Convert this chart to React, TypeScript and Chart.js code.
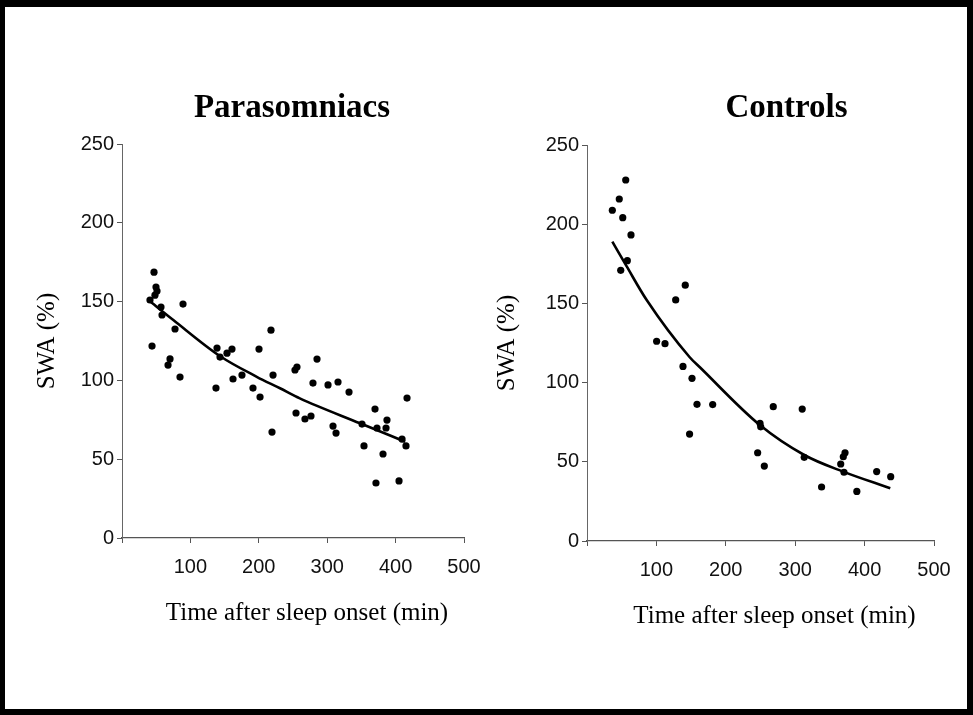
import React, { useEffect, useRef } from 'react';
import { Chart, registerables } from 'chart.js';

Chart.register(...registerables);

// ---- data ----
const xTickValues = [0, 100, 200, 300, 400, 500];
const yTickValues = [0, 50, 100, 150, 200, 250];

const paraTime = [46.8, 49.7, 51.2, 48.2, 40.9, 57.0, 58.5, 89.2, 77.5, 43.9, 70.2, 67.3, 84.8, 138.9, 137.4, 143.3, 153.5, 160.8, 162.3, 175.4, 200.3, 217.8, 220.8, 191.5, 201.8, 219.3, 252.9, 255.8, 254.4, 267.5, 276.3, 285.1, 279.2, 301.2, 315.8, 331.9, 308.5, 312.9, 350.9, 353.8, 369.9, 372.8, 387.4, 386.0, 381.6, 409.4, 415.2, 416.7, 371.3, 405.0];
const paraSWA = [168.7, 159.2, 156.7, 154.1, 151.0, 146.5, 141.5, 148.4, 132.6, 121.8, 113.6, 109.7, 102.1, 120.5, 95.1, 114.8, 117.3, 119.9, 100.9, 103.4, 119.9, 131.9, 103.4, 95.1, 89.4, 67.2, 106.6, 108.5, 79.3, 75.5, 77.4, 113.5, 98.3, 97.1, 99.0, 92.6, 71.0, 66.6, 72.3, 58.4, 81.8, 69.8, 74.8, 69.8, 53.3, 62.8, 58.4, 88.8, 34.9, 36.2];
const paraFitTime = [38.5, 75, 143, 197, 231, 260, 348, 414];
const paraFitSWA = [151, 138.3, 115.5, 102.3, 95, 88.6, 72.8, 61.1];

const ctrlTime = [36.5, 46.5, 55.8, 51.5, 63.4, 58.1, 48.6, 100.3, 112.4, 127.8, 141.6, 138.3, 151.3, 158.5, 181.1, 147.8, 249.3, 250.3, 245.9, 255.5, 268.4, 310.1, 313.0, 338.0, 371.8, 369.3, 365.6, 370.3, 417.4, 437.6, 388.8];
const ctrlSWA = [208.8, 215.9, 227.9, 204.1, 193.2, 177.0, 170.9, 126.1, 124.6, 152.2, 161.5, 110.2, 102.7, 86.3, 86.1, 67.5, 74.3, 72.1, 55.7, 47.3, 84.8, 83.3, 52.8, 34.1, 55.7, 53.2, 48.6, 43.4, 43.8, 40.6, 31.3];
const ctrlFitTime = [36.5, 57, 86, 148, 163, 249, 313, 369, 437];
const ctrlFitSWA = [189, 173.5, 152.1, 116, 109.5, 73.2, 54.3, 43.8, 33.3];

const xAxisTitle = 'Time after sleep onset (min)';
const yAxisTitle = 'SWA (%)';

const panelTextPlugin = {
  id: 'panelText',
  afterDraw(chart: any, _args: any, opts: any) {
    const { ctx, chartArea } = chart;
    const cx = (chartArea.left + chartArea.right) / 2;
    ctx.save();
    ctx.fillStyle = '#000';
    ctx.textAlign = 'center';
    // panel title
    ctx.font = 'bold 33px "Liberation Serif", "Times New Roman", serif';
    ctx.textBaseline = 'alphabetic';
    ctx.fillText(opts.title, cx + opts.titleDx, opts.titleBaseline);
    // x axis title
    ctx.font = '25px "Liberation Serif", "Times New Roman", serif';
    ctx.textBaseline = 'middle';
    ctx.fillText(opts.xTitle, cx + opts.xTitleDx, chartArea.bottom + opts.xTitleGap);
    ctx.restore();
  },
};

type PanelProps = {
  title: string;
  titleDx: number;
  time: number[];
  swa: number[];
  fitTime: number[];
  fitSwa: number[];
  left: number;
  width: number;
  padLeft: number;
  padRight: number;
  padTop: number;
  padBottom: number;
  yWidth: number;
  xHeight: number;
};

const H = 715;

function Panel(p: PanelProps) {
  const ref = useRef<HTMLCanvasElement | null>(null);
  useEffect(() => {
    if (!ref.current) return;
    const tickFont = { family: '"Liberation Sans", Arial, sans-serif', size: 20 };
    const titleFont = { family: '"Liberation Serif", "Times New Roman", serif', size: 25 };
    const chart = new Chart(ref.current, {
      type: 'scatter',
      data: {
        datasets: [
          {
            type: 'line',
            data: p.fitTime.map((t, i) => ({ x: t, y: p.fitSwa[i] })),
            borderColor: '#000',
            borderWidth: 2.6,
            pointRadius: 0,
            fill: false,
            cubicInterpolationMode: 'monotone',
          } as any,
          {
            type: 'scatter',
            data: p.time.map((t, i) => ({ x: t, y: p.swa[i] })),
            backgroundColor: '#000',
            borderColor: '#000',
            borderWidth: 0,
            pointRadius: 3.6,
          } as any,
        ],
      },
      options: {
        responsive: false,
        animation: false,
        devicePixelRatio: 1,
        layout: { padding: { left: p.padLeft, right: p.padRight, top: p.padTop, bottom: p.padBottom } },
        plugins: {
          legend: { display: false },
          tooltip: { enabled: false },
          title: { display: false },
          panelText: {
            title: p.title,
            titleDx: p.titleDx,
            titleBaseline: 117,
            xTitle: xAxisTitle,
            xTitleDx: 14,
            xTitleGap: 75,
          },
        } as any,
        scales: {
          x: {
            type: 'linear',
            min: 0,
            max: 500,
            afterBuildTicks: (s: any) => {
              s.ticks = xTickValues.map((v) => ({ value: v }));
            },
            afterFit: (s: any) => {
              s.height = p.xHeight;
            },
            ticks: {
              color: '#111',
              font: tickFont,
              padding: 12,
              maxRotation: 0,
              callback: (v: any) => (v === 0 ? '' : String(v)),
            },
            grid: { drawOnChartArea: false, drawTicks: true, tickLength: 5, color: '#555' },
            border: { display: true, color: '#555', width: 1.2 },
            title: { display: false },
          },
          y: {
            type: 'linear',
            min: 0,
            max: 250,
            afterBuildTicks: (s: any) => {
              s.ticks = yTickValues.map((v) => ({ value: v }));
            },
            afterFit: (s: any) => {
              s.width = p.yWidth;
            },
            ticks: { color: '#111', font: tickFont, padding: 3 },
            grid: { drawOnChartArea: false, drawTicks: true, tickLength: 5, color: '#555' },
            border: { display: true, color: '#666', width: 1 },
            title: { display: true, text: yAxisTitle, color: '#000', font: titleFont, padding: 0 },
          },
        },
      },
      plugins: [panelTextPlugin as any],
    });
    return () => chart.destroy();
  }, []);
  return (
    <canvas
      ref={ref}
      width={p.width}
      height={H}
      style={{ position: 'absolute', left: p.left, top: 0, width: p.width, height: H }}
    />
  );
}

export default function App() {
  return (
    <div style={{ position: 'absolute', left: 0, top: 0, width: 973, height: 715, background: '#fff', overflow: 'hidden' }}>
      <div
        style={{
          position: 'absolute',
          left: 0,
          top: 0,
          width: 973,
          height: 715,
          boxSizing: 'border-box',
          borderStyle: 'solid',
          borderColor: '#000',
          borderWidth: '7px 6px 6px 5px',
        }}
      />
      <Panel
        title="Parasomniacs"
        titleDx={-1}
        time={paraTime}
        swa={paraSWA}
        fitTime={paraFitTime}
        fitSwa={paraFitSWA}
        left={0}
        width={493}
        padLeft={32}
        padRight={29}
        padTop={144}
        padBottom={87}
        yWidth={90}
        xHeight={90}
      />
      <Panel
        title="Controls"
        titleDx={26}
        time={ctrlTime}
        swa={ctrlSWA}
        fitTime={ctrlFitTime}
        fitSwa={ctrlFitSWA}
        left={486}
        width={487}
        padLeft={6}
        padRight={39}
        padTop={145}
        padBottom={86}
        yWidth={95}
        xHeight={88}
      />
    </div>
  );
}
